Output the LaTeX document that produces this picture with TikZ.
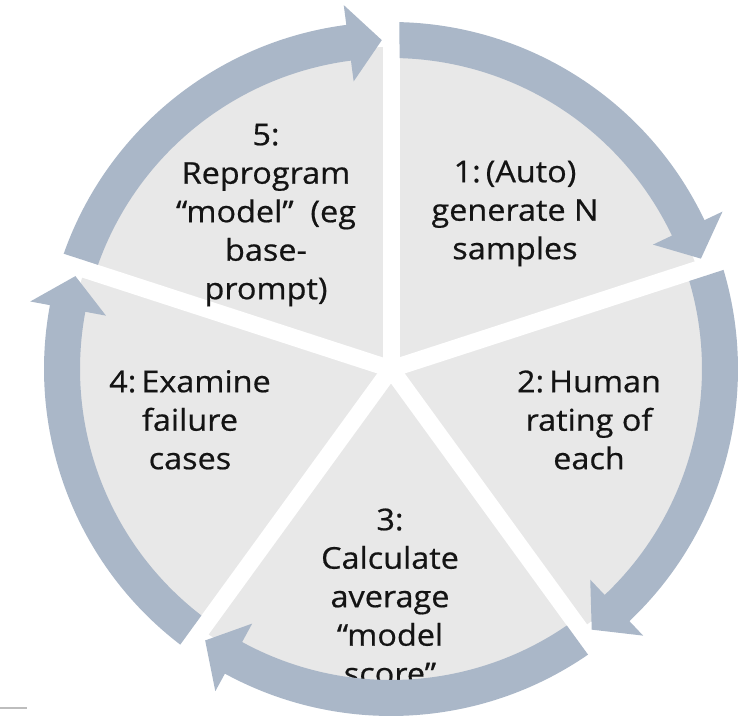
\documentclass[tikz,border=0pt]{standalone}
\usepackage{fontspec}
\setmainfont{Open Sans}[FakeStretch=1.08,FakeBold=0.6]
\usetikzlibrary{calc}
\definecolor{discgray}{HTML}{E8E8E8}
\definecolor{arrowblue}{HTML}{AAB7C8}
\definecolor{txt}{HTML}{141414}
\definecolor{rulegray}{HTML}{BDBDBD}
\begin{document}
\begin{tikzpicture}[x=1pt,y=1pt,
  lab/.style={anchor=north, align=center, inner sep=0pt, text=txt,
    font=\fontsize{30}{38.5}\selectfont},
  cyclearrow/.style={fill=arrowblue}]
\useasboundingbox (0,0) rectangle (756,721);
\coordinate (C) at (391,352);
% pie disc
\fill[discgray] (C) circle[radius=322];
% white gaps between sectors
\foreach \b in {90,18,-54,-126,-198}
  \draw[white,line width=17pt] (C) -- ++(\b:378);
% labels
\node[lab] (l5) at (266,600) {\rule{0pt}{24pt}5:\\Reprogram\\“model”~~(eg\\base-\\prompt)};
\node[lab] (l1) at (515,563) {\rule{0pt}{24pt}1:\,(Auto)\\generate N\\samples};
\node[lab] (l2) at (589,353) {\rule{0pt}{24pt}2:\,Human\\rating of\\each};
\node[lab] (l3) at (390,215) {\rule{0pt}{24pt}3:\\Calculate\\average\\“model\\score”};
\node[lab] (l4) at (190,353) {\rule{0pt}{24pt}4:\,Examine\\failure\\cases};
% cycle arrows
\foreach \b in {90,18,-54,-126,-198} {
  \pgfmathsetmacro\t{\b-72+1.6}
  \pgfmathsetmacro\h{\t+5.8}
  \pgfmathsetmacro\ao{\b-1.40}
  \pgfmathsetmacro\ai{\b-1.57}
  \fill[cyclearrow] ($(C)+(\ao:347)$) arc[start angle=\ao, end angle=\h, radius=347]
    -- ($(C)+(\h:367)$) -- ($(C)+(\t:329)$) -- ($(C)+(\h:290)$)
    -- ($(C)+(\h:311)$) arc[start angle=\h, end angle=\ai, radius=311] -- cycle;
}
% small rule at bottom left
\coordinate (r1) at (0,13);
\coordinate (r2) at (27,13);
\draw[rulegray,line width=1.5pt] (r1) -- (r2);
\end{tikzpicture}
\end{document}
